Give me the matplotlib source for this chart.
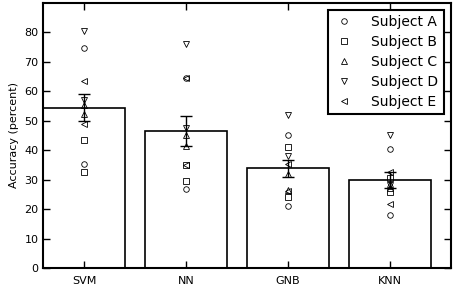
import numpy as np
import matplotlib
matplotlib.use('Agg')
import matplotlib.pyplot as plt

# Classifiers and per-subject accuracies (two runs each)
classifiers = ['SVM', 'NN', 'GNB', 'KNN']
mean_acc = [54.4, 46.5, 33.8, 29.9]
sem_acc = [4.7, 5.1, 2.9, 2.8]

subjects = ['Subject A', 'Subject B', 'Subject C', 'Subject D', 'Subject E']
markers = ['o', 's', '^', 'v', '<']

subject_a = [[74.6, 35.2], [64.6, 26.7], [45.1, 21.0], [40.4, 18.0]]
subject_b = [[43.4, 32.7], [34.9, 29.5], [41.1, 24.0], [30.4, 25.7]]
subject_c = [[52.3, 55.4], [45.1, 41.5], [31.8, 26.6], [28.5, 27.3]]
subject_d = [[80.4, 57.0], [75.9, 47.4], [51.9, 37.9], [45.1, 28.2]]
subject_e = [[63.5, 48.8], [64.6, 34.9], [35.2, 26.0], [32.5, 21.6]]
subject_data = [subject_a, subject_b, subject_c, subject_d, subject_e]

fig = plt.figure(figsize=(4.54, 2.87), dpi=100)
ax = fig.add_axes([0.0954, 0.0662, 0.8980, 0.9244])

x = np.arange(len(classifiers))
ax.bar(x, mean_acc, width=0.8, color='white', edgecolor='black', linewidth=1.2, zorder=1)
ax.errorbar(x, mean_acc, yerr=sem_acc, fmt='none', ecolor='black', elinewidth=1.0,
            capsize=4, capthick=1.0, zorder=3)

for name, mk, vals in zip(subjects, markers, subject_data):
    for i, pair in enumerate(vals):
        ax.plot([x[i]] * len(pair), pair, linestyle='none', marker=mk, markersize=4,
                markerfacecolor='none', markeredgecolor='black', markeredgewidth=0.6,
                label=name if i == 0 else None, zorder=4)

ax.set_xlim(-0.4, 3.6)
ax.set_ylim(0, 90)
ax.set_yticks(range(0, 81, 10))
ax.set_xticks(x)
ax.set_xticklabels(classifiers)
ax.set_ylabel('Accuracy (percent)', fontsize=8)
ax.tick_params(direction='in', length=5, width=1, labelsize=8, top=True, right=True)
ax.tick_params(axis='x', pad=6)
for sp in ax.spines.values():
    sp.set_linewidth(1.5)

leg = ax.legend(loc='upper right', numpoints=1, fontsize=10, fancybox=False,
                framealpha=1, edgecolor='black', borderaxespad=0.5,
                handletextpad=1.3, labelspacing=0.42, handlelength=1.4)
leg.get_frame().set_linewidth(1.5)

fig.savefig('out.png', dpi=100)
